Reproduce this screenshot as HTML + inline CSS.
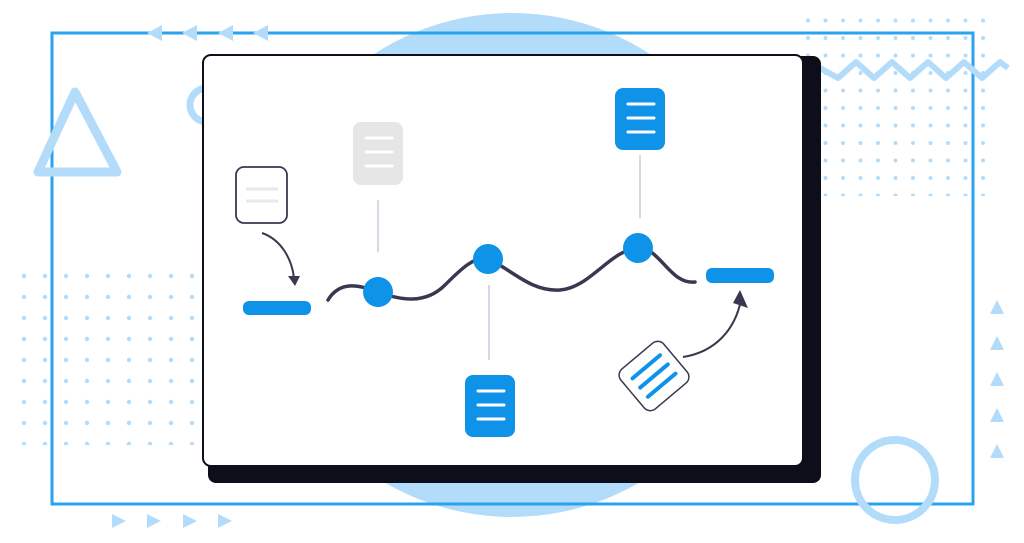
<!DOCTYPE html>
<html><head><style>body{margin:0;background:#fff;width:1024px;height:538px;overflow:hidden}</style></head><body>
<svg width="1024" height="538" viewBox="0 0 1024 538" xmlns="http://www.w3.org/2000/svg">
<defs>
<pattern id="dots" width="21" height="21" patternUnits="userSpaceOnUse"><circle cx="3" cy="3" r="2.2" fill="#b3dcfb"/></pattern>
<pattern id="dots2" width="17.5" height="17.5" patternUnits="userSpaceOnUse"><circle cx="3" cy="3" r="2" fill="#b3dcfb"/></pattern>
</defs>
<circle cx="512" cy="265" r="252" fill="#b3dcfb"/>
<rect x="20" y="265" width="180" height="180" fill="url(#dots)"/>
<rect x="806" y="18" width="180" height="178" fill="url(#dots2)"/>
<rect x="52" y="33" width="921" height="471" fill="none" stroke="#2aa3ee" stroke-width="3"/>
<polygon points="75,92 38,172 117,172" fill="none" stroke="#b3dcfb" stroke-width="9" stroke-linejoin="round"/>
<circle cx="207" cy="105" r="17" fill="none" stroke="#b3dcfb" stroke-width="7"/>
<g fill="#b3dcfb">
<polygon points="147,33 162,25 162,41"/><polygon points="182,33 197,25 197,41"/><polygon points="218,33 233,25 233,41"/><polygon points="253,33 268,25 268,41"/>
<polygon points="112,514 112,528 126,521"/><polygon points="147,514 147,528 161,521"/><polygon points="183,514 183,528 197,521"/><polygon points="218,514 218,528 232,521"/>
<polygon points="997,300 990,314 1004,314"/><polygon points="997,336 990,350 1004,350"/><polygon points="997,372 990,386 1004,386"/><polygon points="997,408 990,422 1004,422"/><polygon points="997,444 990,458 1004,458"/>
</g>
<polyline points="820,68 838,78 856,62 874,78 892,62 910,78 928,62 946,78 964,62 982,78 1000,62 1008,68" fill="none" stroke="#b3dcfb" stroke-width="6" stroke-linejoin="round"/>
<circle cx="895" cy="480" r="40" fill="none" stroke="#b3dcfb" stroke-width="8"/>
<rect x="208" y="56" width="613" height="427" rx="8" fill="#0d0e1a"/>
<rect x="203" y="55" width="600" height="411" rx="8" fill="#fff" stroke="#0d0e1a" stroke-width="2"/>
<path d="M328,300 C340,280 360,285 378,292 C400,300 425,305 445,285 C460,270 475,255 488,259 C510,268 530,292 560,290 C590,288 610,250 638,248 C660,247 670,285 695,282" fill="none" stroke="#3a3850" stroke-width="3.5" stroke-linecap="round"/>
<g stroke="#d8d7e5" stroke-width="2"><line x1="378" y1="200" x2="378" y2="252"/><line x1="489" y1="285" x2="489" y2="360"/><line x1="640" y1="155" x2="640" y2="218"/></g>
<g fill="#0f93e8"><circle cx="378" cy="292" r="15"/><circle cx="488" cy="259" r="15"/><circle cx="638" cy="248" r="15"/>
<rect x="243" y="301" width="68" height="14" rx="6"/><rect x="706" y="268" width="68" height="15" rx="6"/></g>
<rect x="353" y="122" width="50" height="63" rx="8" fill="#e6e6e6"/>
<g stroke="#fff" stroke-width="3" stroke-linecap="round"><line x1="366" y1="138" x2="392" y2="138"/><line x1="366" y1="152" x2="392" y2="152"/><line x1="366" y1="166" x2="392" y2="166"/></g>
<rect x="615" y="88" width="50" height="62" rx="8" fill="#0f93e8"/>
<g stroke="#fff" stroke-width="3" stroke-linecap="round"><line x1="628" y1="104" x2="654" y2="104"/><line x1="628" y1="118" x2="654" y2="118"/><line x1="628" y1="132" x2="654" y2="132"/></g>
<rect x="465" y="375" width="50" height="62" rx="8" fill="#0f93e8"/>
<g stroke="#fff" stroke-width="3" stroke-linecap="round"><line x1="478" y1="391" x2="504" y2="391"/><line x1="478" y1="405" x2="504" y2="405"/><line x1="478" y1="419" x2="504" y2="419"/></g>
<rect x="236" y="167" width="51" height="56" rx="8" fill="#fff" stroke="#3a3850" stroke-width="1.8"/>
<g stroke="#e8e8ee" stroke-width="3"><line x1="246" y1="189" x2="278" y2="189"/><line x1="246" y1="201" x2="278" y2="201"/></g>
<g transform="rotate(-40 654 376)"><rect x="626" y="350" width="56" height="52" rx="8" fill="#fff" stroke="#3a3850" stroke-width="1.5"/>
<g stroke="#0f93e8" stroke-width="4" stroke-linecap="round"><line x1="636" y1="364" x2="672" y2="364"/><line x1="636" y1="376" x2="672" y2="376"/><line x1="636" y1="388" x2="672" y2="388"/></g></g>
<path d="M262,233 C282,240 292,260 294,278" fill="none" stroke="#3a3850" stroke-width="2"/>
<polygon points="288,276 300,276 295,286" fill="#3a3850"/>
<path d="M683,357 C715,352 735,330 741,300" fill="none" stroke="#3a3850" stroke-width="2"/>
<polygon points="740,290 748,308 733,303" fill="#3a3850"/>
</svg>
</body></html>
